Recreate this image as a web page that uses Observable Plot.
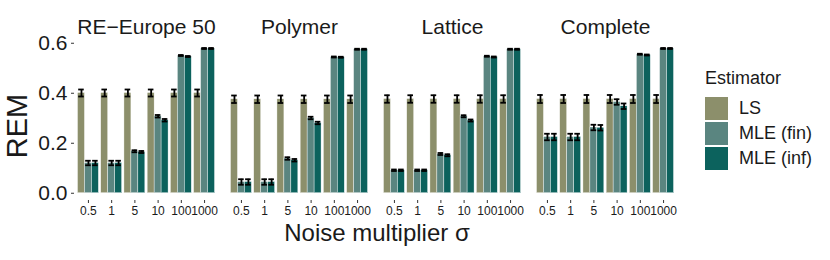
<!DOCTYPE html>
<html>
<head>
<meta charset="utf-8">
<script src="https://cdn.jsdelivr.net/npm/d3@7"></script>
<script src="https://cdn.jsdelivr.net/npm/@observablehq/plot@0.6"></script>
<style>
  html, body { margin: 0; padding: 0; background: #fff; }
  #wrap { position: relative; width: 830px; height: 260px; font-family: "Liberation Sans", Arial, Helvetica, sans-serif; color: #1a1a1a; }
  #chart svg { display: block; }
  .ylab { position: absolute; left: 17px; top: 126px; transform: translate(-50%, -50%) rotate(-90deg); font-size: 29px; white-space: nowrap; }
  .xlab { position: absolute; left: 377px; top: 233px; transform: translate(-50%, -50%); font-size: 24px; white-space: nowrap; }
  #legend { position: absolute; left: 705px; top: 68px; }
  #legend .title { font-size: 18px; margin-bottom: 8px; line-height: 20px; }
  #legend .row { display: flex; align-items: center; height: 25px; }
  #legend .sw { width: 23px; height: 23px; margin-right: 11px; }
  #legend .lab { font-size: 18px; }
</style>
</head>
<body>
<div id="wrap">
  <div id="chart"></div>
  <div class="ylab">REM</div>
  <div class="xlab">Noise multiplier σ</div>
  <div id="legend"></div>
</div>
<script>
// ---- data ----
const graphs = ["RE−Europe 50", "Polymer", "Lattice", "Complete"];
const sigmas = ["0.5", "1", "5", "10", "100", "1000"];
const estimators = ["LS", "MLE (fin)", "MLE (inf)"];
const colors = ["#8c8f6b", "#5a8580", "#0c625d"];

// values[graph][sigma]
const lsValues = [
  [0.401, 0.401, 0.401, 0.401, 0.401, 0.401],
  [0.376, 0.376, 0.376, 0.376, 0.376, 0.376],
  [0.377, 0.377, 0.377, 0.377, 0.377, 0.377],
  [0.377, 0.377, 0.377, 0.377, 0.377, 0.377]
];
const finValues = [
  [0.121, 0.121, 0.168, 0.308, 0.551, 0.579],
  [0.045, 0.045, 0.139, 0.301, 0.545, 0.576],
  [0.092, 0.092, 0.157, 0.308, 0.548, 0.576],
  [0.225, 0.225, 0.263, 0.365, 0.556, 0.579]
];
const infValues = [
  [0.121, 0.121, 0.165, 0.292, 0.547, 0.579],
  [0.045, 0.045, 0.132, 0.281, 0.544, 0.576],
  [0.092, 0.092, 0.152, 0.291, 0.545, 0.576],
  [0.225, 0.225, 0.262, 0.348, 0.553, 0.579]
];
const lsErr = [
  [0.014, 0.014, 0.014, 0.014, 0.014, 0.014],
  [0.015, 0.015, 0.015, 0.015, 0.015, 0.015],
  [0.015, 0.015, 0.015, 0.015, 0.015, 0.015],
  [0.016, 0.016, 0.016, 0.016, 0.016, 0.016]
];
const finErr = [
  [0.009, 0.009, 0.004, 0.005, 0.002, 0.002],
  [0.011, 0.011, 0.005, 0.005, 0.002, 0.002],
  [0.003, 0.003, 0.004, 0.004, 0.002, 0.002],
  [0.013, 0.013, 0.011, 0.011, 0.002, 0.002]
];
const infErr = [
  [0.009, 0.009, 0.004, 0.005, 0.002, 0.002],
  [0.011, 0.011, 0.005, 0.005, 0.002, 0.002],
  [0.003, 0.003, 0.004, 0.004, 0.002, 0.002],
  [0.013, 0.013, 0.011, 0.011, 0.002, 0.002]
];
const yTicks = [0, 0.2, 0.4, 0.6];

// ---- build table (dodge within each sigma group, data units) ----
const valueSets = [lsValues, finValues, infValues];
const errSets = [lsErr, finErr, infErr];
const dodge = 0.3;
const table = [];
graphs.forEach((g, gi) => sigmas.forEach((s, si) => estimators.forEach((e, ei) => {
  table.push({
    graph: g, sigma: s, est: e,
    pos: si + 1 + (ei - 1) * dodge,
    value: valueSets[ei][gi][si],
    err: errSets[ei][gi][si]
  });
})));
const caps = table.flatMap(d => [
  {...d, y: d.value - d.err},
  {...d, y: d.value + d.err}
]);

const font = "Liberation Sans, Arial, Helvetica, sans-serif";

const chart = Plot.plot({
  width: 830,
  height: 260,
  marginLeft: 73,
  marginRight: 151,
  marginTop: 40,
  marginBottom: 60,
  style: {fontFamily: font, background: "white", color: "#1a1a1a"},
  fx: {domain: graphs, paddingInner: 0.0564, paddingOuter: 0},
  x: {domain: [0.4, 6.6]},
  y: {domain: [-0.029, 0.611]},
  color: {domain: estimators, range: colors},
  marks: [
    Plot.rectY(table, {
      fx: "graph",
      x1: d => d.pos - dodge / 2,
      x2: d => d.pos + dodge / 2,
      y1: 0,
      y2: "value",
      fill: "est",
      stroke: "white",
      strokeWidth: 0.4
    }),
    Plot.ruleX(table, {
      fx: "graph",
      x: "pos",
      y1: d => d.value - d.err,
      y2: d => d.value + d.err,
      stroke: "black",
      strokeWidth: 1.8
    }),
    Plot.ruleY(caps, {
      fx: "graph",
      y: "y",
      x1: d => d.pos - 0.12,
      x2: d => d.pos + 0.12,
      stroke: "black",
      strokeWidth: 1.8
    }),
    Plot.axisY({
      ticks: yTicks,
      tickFormat: d3.format(".1f"),
      tickSize: 3,
      tickPadding: 4,
      fontSize: 21,
      stroke: "#333",
      fill: "#1a1a1a",
      label: null
    }),
    Plot.axisX({
      ticks: [1, 2, 3, 4, 5, 6],
      tickFormat: i => sigmas[i - 1],
      tickSize: 3,
      tickPadding: 3,
      fontSize: 12,
      stroke: "#333",
      fill: "#1a1a1a",
      label: null
    }),
    Plot.axisFx({
      anchor: "top",
      tickSize: 0,
      tickPadding: 7,
      fontSize: 21,
      fill: "#1a1a1a",
      label: null
    })
  ]
});
document.getElementById("chart").appendChild(chart);

// ---- legend ----
const legend = document.getElementById("legend");
const t = document.createElement("div");
t.className = "title";
t.textContent = "Estimator";
legend.appendChild(t);
estimators.forEach((e, i) => {
  const row = document.createElement("div");
  row.className = "row";
  const sw = document.createElement("div");
  sw.className = "sw";
  sw.style.background = colors[i];
  const lab = document.createElement("div");
  lab.className = "lab";
  lab.textContent = e;
  row.appendChild(sw);
  row.appendChild(lab);
  legend.appendChild(row);
});
</script>
</body>
</html>
